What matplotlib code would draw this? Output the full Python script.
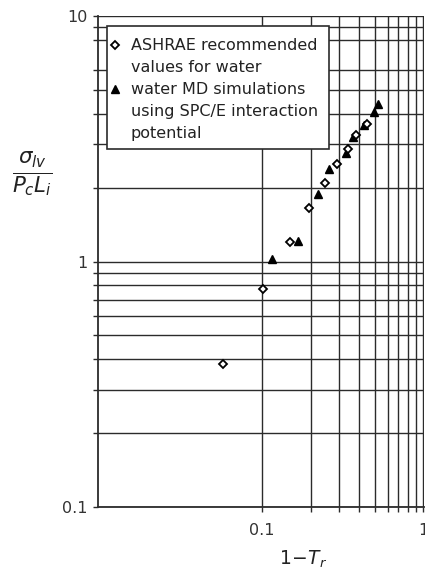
import numpy as np
import matplotlib
matplotlib.use("Agg")
import matplotlib.pyplot as plt
from matplotlib.patches import Rectangle
from matplotlib.ticker import FixedLocator, NullFormatter

plt.rcParams['font.family'] = ['DejaVu Sans']
plt.rcParams['mathtext.fontset'] = 'dejavusans'

# ASHRAE recommended values for water
ashrae_x = [0.057, 0.102, 0.150, 0.195, 0.246, 0.291, 0.341, 0.384, 0.447]
ashrae_y = [0.384, 0.776, 1.199, 1.645, 2.08, 2.50, 2.88, 3.28, 3.62]

# water MD simulations (SPC/E)
md_x = [0.115, 0.168, 0.221, 0.260, 0.331, 0.364, 0.426, 0.498, 0.520]
md_y = [1.025, 1.215, 1.883, 2.39, 2.76, 3.20, 3.59, 4.05, 4.37]

x_grid = [0.1, 0.2, 0.3, 0.4, 0.5, 0.6, 0.7, 0.8, 0.9, 1.0]
y_grid = [0.1, 0.2, 0.3, 0.4, 0.5, 0.6, 0.7, 0.8, 0.9, 1,
          2, 3, 4, 5, 6, 8, 9, 10]

W, H = 425, 569
fig = plt.figure(figsize=(W/100, H/100), dpi=100)
ax = fig.add_axes([98/W, 1-507/H, (424-98)/W, (507-16)/H])
ax.set_xscale('log')
ax.set_yscale('log')
ax.set_xlim(0.0096, 1.01)
ax.set_ylim(0.1, 10)

gc = '#2b2b2b'
for v in x_grid:
    ax.axvline(v, color=gc, lw=1.0, zorder=1)
for v in y_grid:
    ax.axhline(v, color=gc, lw=1.0, zorder=1)

ax.xaxis.set_major_locator(FixedLocator([0.1, 1.0]))
ax.xaxis.set_minor_locator(FixedLocator(x_grid))
ax.yaxis.set_major_locator(FixedLocator([0.1, 1, 10]))
ax.yaxis.set_minor_locator(FixedLocator(y_grid))
ax.xaxis.set_minor_formatter(NullFormatter())
ax.yaxis.set_minor_formatter(NullFormatter())
ax.set_xticklabels(['0.1', '1'])
ax.set_yticklabels(['0.1', '1', '10'])
ax.tick_params(which='both', direction='out', length=3.5, width=1.0, color=gc,
               labelsize=11.5, labelcolor='#333333')
ax.tick_params(axis='x', pad=8)
ax.tick_params(axis='y', pad=4)

for s in ['top', 'right']:
    ax.spines[s].set_visible(False)
for s in ['left', 'bottom']:
    ax.spines[s].set_color(gc)
    ax.spines[s].set_linewidth(1.3)

ax.plot(ashrae_x, ashrae_y, linestyle='none', marker='D', markersize=4,
        mfc='white', mec='black', mew=1.3, zorder=4, clip_on=False)
ax.plot(md_x, md_y, linestyle='none', marker='^', markersize=5.5,
        mfc='black', mec='black', zorder=3, clip_on=False)

# legend box drawn by hand (multi-line labels, marker on first line)
def fx(px):
    return px / W

def fy(py):
    return 1 - py / H

ax.add_patch(Rectangle((fx(107), fy(149)), fx(329) - fx(107), fy(26) - fy(149),
                       transform=fig.transFigure, facecolor='white',
                       edgecolor=gc, lw=1.2, zorder=5, clip_on=False))
ax.plot([fx(115)], [fy(45)], transform=fig.transFigure, marker='D',
        markersize=4, mfc='white', mec='black', mew=1.3, zorder=6, clip_on=False)
ax.plot([fx(115)], [fy(89)], transform=fig.transFigure, marker='^',
        markersize=5.5, mfc='black', mec='black', zorder=6, clip_on=False)
leg_lines = ['ASHRAE recommended', 'values for water', 'water MD simulations',
             'using SPC/E interaction', 'potential']
for i, t in enumerate(leg_lines):
    ax.text(fx(131), fy(46 + 21.8 * i), t, transform=fig.transFigure,
            fontsize=11.5, color='#222222', va='center', ha='left', zorder=7)

fig.text(fx(32), fy(174), r'$\frac{\sigma_{lv}}{P_c L_i}$', fontsize=22,
         ha='center', va='center', color='#222222')
fig.text(fx(303), fy(559), r'$1\!-\!T_r$', fontsize=13.5,
         ha='center', va='center', color='#222222')

fig.savefig('out.png', dpi=100)
